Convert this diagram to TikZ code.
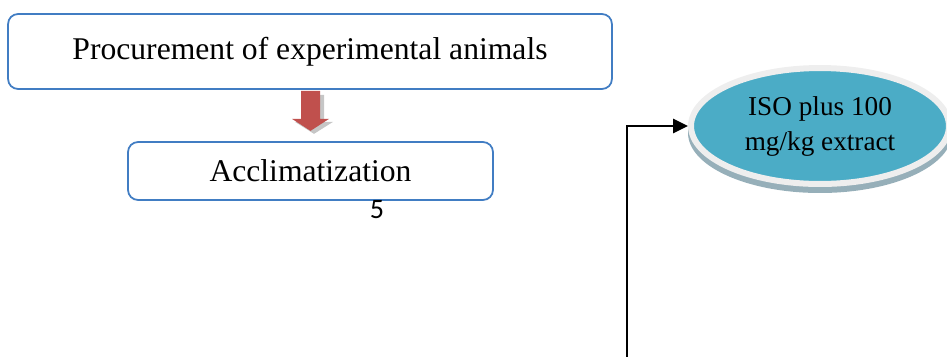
\documentclass[tikz,border=0pt]{standalone}
\usepackage{fontspec}
\setmainfont{Liberation Serif}
\newfontfamily\pagenumfont{Carlito}
\usetikzlibrary{shapes.geometric,arrows.meta,calc}
\definecolor{boxblue}{RGB}{65,125,195}
\definecolor{arrowred}{RGB}{192,80,77}
\definecolor{isoblue}{RGB}{75,172,198}
\definecolor{ringgray}{RGB}{238,238,238}
\definecolor{shadowgray}{RGB}{150,175,185}

\begin{document}
\begin{tikzpicture}[x=0.02cm,y=-0.02cm,
  stepbox/.style={draw=boxblue,line width=1pt,rounded corners=0.2cm,fill=white,
    font=\fontsize{18}{21}\selectfont},
  isoellipse/.style={ellipse,draw=ringgray,line width=0.12cm,fill=isoblue,
    minimum width=5.16cm,minimum height=2.3cm,align=center,
    font=\fontsize{15.5}{20}\selectfont}]
  \useasboundingbox (0,0) rectangle (947,356);
  \clip (0,0) rectangle (947,356);
  \node[stepbox,minimum width=12.08cm,minimum height=1.5cm] (proc) at (310,51.5) {Procurement of experimental animals};
  \node[stepbox,minimum width=7.3cm,minimum height=1.16cm] (accl) at (310.5,171) {Acclimatization};
  \node (pagenum) at (377,210) {\pagenumfont\fontsize{16}{18}\selectfont 5};
  % block arrow between the boxes, with its shadow
  \fill[gray!45] ($(proc.south)+(-6,5)$) -- ++(20,0) -- ++(0,27) -- ++(9,0) -- ++(-19,12) -- ++(-19,-12) -- ++(9,0) -- cycle;
  \fill[arrowred] ($(proc.south)+(-9,1)$) -- ++(19,0) -- ++(0,28) -- ++(9,0) -- ++(-18.5,12) -- ++(-18.5,-12) -- ++(9,0) -- cycle;
  % ellipse with its shadow
  \fill[shadowgray] (820,133) ellipse (2.64cm and 1.2cm);
  \node[isoellipse] (iso) at (820,126) {\raisebox{-0.1cm}{\begin{tabular}{@{}c@{}}ISO plus 100\\mg/kg extract\end{tabular}}};
  \coordinate (bot) at (627,360);
  \draw[line width=1.7pt,-{Triangle[length=0.3cm,width=0.28cm]}] (bot) |- (iso.west);
\end{tikzpicture}
\end{document}
